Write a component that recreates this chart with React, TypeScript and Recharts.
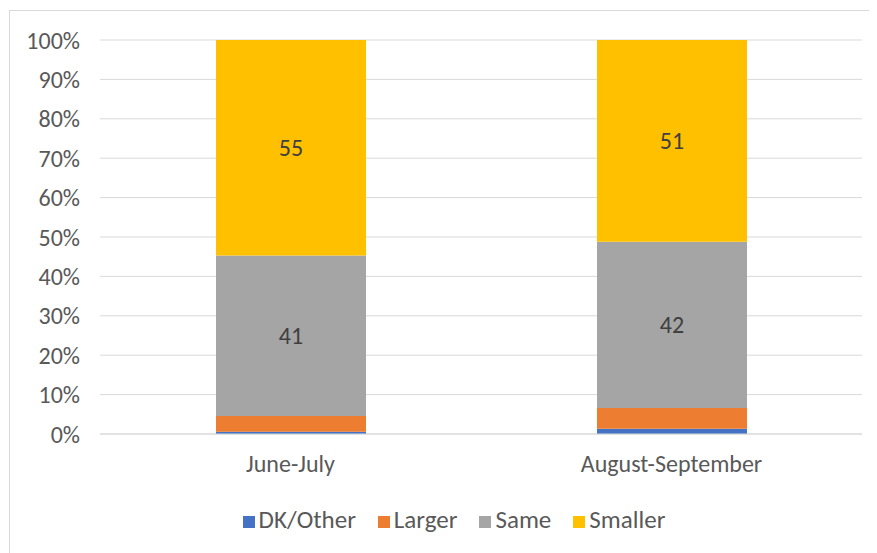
import { Bar, BarChart, CartesianGrid, LabelList, Legend, XAxis, YAxis } from 'recharts';

const periods = ['June-July', 'August-September'];
const dkOther = [0.6, 1.3];
const larger = [4, 5.3];
const same = [41, 42];
const smaller = [55, 51];
const yTicks = [0, 0.1, 0.2, 0.3, 0.4, 0.5, 0.6, 0.7, 0.8, 0.9, 1];

const rows = periods.map((period, i) => ({
  period,
  dk: dkOther[i],
  larger: larger[i],
  same: same[i],
  smaller: smaller[i],
}));

const font = 'Carlito, Calibri, "Open Sans", sans-serif';
const textColor = '#595959';
const fontSize = 24;

export default function App() {
  return (
    <div
      style={{
        width: 900,
        height: 560,
        marginLeft: 1,
        marginTop: 2,
        borderTop: '1px solid #d9d9d9',
        borderLeft: '1px solid #d9d9d9',
        fontFamily: font,
      }}
    >
      <BarChart
        width={862}
        height={540}
        data={rows}
        stackOffset="expand"
        barCategoryGap={0}
        margin={{ top: 29, right: 10, bottom: 5, left: 0 }}
      >
        <CartesianGrid vertical={false} stroke="#d9d9d9" />
        <XAxis
          dataKey="period"
          height={70}
          axisLine={{ stroke: '#d9d9d9' }}
          tickLine={false}
          tickMargin={15}
          tick={{ fill: textColor, fontSize, fontFamily: font }}
        />
        <YAxis
          width={90}
          domain={[0, 1]}
          ticks={yTicks}
          axisLine={false}
          tickLine={false}
          tickMargin={14}
          tickFormatter={(v: number) => `${Math.round(v * 100)}%`}
          tick={{ fill: textColor, fontSize, fontFamily: font }}
        />
        <Legend
          verticalAlign="bottom"
          height={42}
          iconType="square"
          iconSize={12}
          wrapperStyle={{ fontSize: 25, fontFamily: font, color: textColor, left: 29 }}
          formatter={(value: string) => <span style={{ color: textColor, marginRight: 12 }}>{value}</span>}
        />
        <Bar dataKey="dk" name="DK/Other" stackId="a" fill="#4472c4" barSize={150} isAnimationActive={false} />
        <Bar dataKey="larger" name="Larger" stackId="a" fill="#ed7d31" barSize={150} isAnimationActive={false} />
        <Bar dataKey="same" name="Same" stackId="a" fill="#a5a5a5" barSize={150} isAnimationActive={false}>
          <LabelList dataKey="same" position="center" fill="#404040" fontSize={fontSize} fontFamily={font} />
        </Bar>
        <Bar dataKey="smaller" name="Smaller" stackId="a" fill="#ffc000" barSize={150} isAnimationActive={false}>
          <LabelList dataKey="smaller" position="center" fill="#404040" fontSize={fontSize} fontFamily={font} />
        </Bar>
      </BarChart>
    </div>
  );
}
